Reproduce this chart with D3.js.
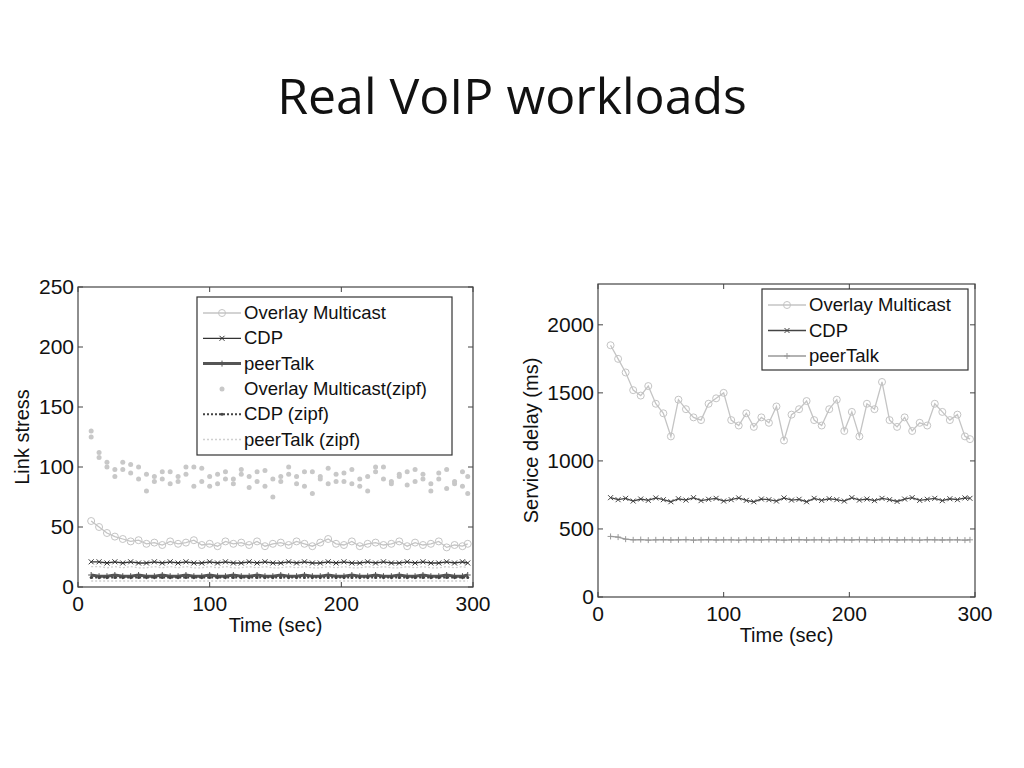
<!DOCTYPE html>
<html><head><meta charset="utf-8">
<script src="https://cdn.jsdelivr.net/npm/d3@7"></script>
<style>body{margin:0;background:#fff}</style>
</head><body>
<svg id="c" width="1024" height="768"></svg>
<script>
// shared time axis (sec)
const times = [10,16,22,28,34,40,46,52,58,64,70,76,82,88,94,100,106,112,118,124,130,136,142,148,154,160,166,172,178,184,190,196,202,208,214,220,226,232,238,244,250,256,262,268,274,280,286,292,296];

// left: link stress
const omZipf = [130,112,104,98,104,95,100,80,92,90,96,88,100,84,99,92,86,96,90,94,83,88,97,75,92,100,86,96,78,92,99,88,95,86,90,80,96,100,88,94,85,98,90,86,95,82,88,96,78];
const omZipf2 = [125,108,100,92,98,102,90,94,88,96,86,92,94,100,88,84,94,90,86,98,92,96,84,90,88,94,92,84,96,90,86,94,88,98,84,92,100,90,86,92,96,88,94,80,90,98,86,84,92];
const omLink = [55,50,45,42,40,38,39,36,37,35,38,36,37,39,35,36,34,38,36,37,35,38,34,36,37,35,38,36,34,37,40,36,35,38,34,36,37,35,36,38,34,37,35,36,38,33,35,34,36];
const cdpLink = [21,21,20,21,20,21,20,20,21,20,21,20,21,20,20,21,20,21,20,20,21,20,21,20,20,21,20,21,20,20,21,20,21,20,20,21,20,21,20,20,21,20,21,20,20,21,20,21,20];
const ptLink = [10,9,9,10,9,9,10,9,9,10,9,9,10,9,9,10,9,9,10,9,9,10,9,9,10,9,9,10,9,9,10,9,9,10,9,9,10,9,9,10,9,9,10,9,9,10,9,9,10];
const cdpZipfLink = [8,8,8,8,8,8,8,8,8,8,8,8,8,8,8,8,8,8,8,8,8,8,8,8,8,8,8,8,8,8,8,8,8,8,8,8,8,8,8,8,8,8,8,8,8,8,8,8,8];
const ptZipfLink = [17,17,16,17,16,17,16,16,17,16,17,16,17,16,16,17,16,17,16,16,17,16,17,16,16,17,16,17,16,16,17,16,17,16,16,17,16,17,16,16,17,16,17,16,16,17,16,17,16];
const ptZipfLink2 = [5,5,5,5,5,5,5,5,5,5,5,5,5,5,5,5,5,5,5,5,5,5,5,5,5,5,5,5,5,5,5,5,5,5,5,5,5,5,5,5,5,5,5,5,5,5,5,5,5];

// right: service delay (ms)
const omDelay = [1850,1750,1650,1520,1480,1550,1420,1350,1180,1450,1380,1320,1300,1420,1460,1500,1300,1260,1350,1250,1320,1280,1400,1150,1340,1380,1440,1300,1260,1380,1450,1220,1360,1180,1420,1380,1580,1300,1250,1320,1220,1280,1260,1420,1360,1300,1340,1180,1160];
const cdpDelay = [730,715,725,705,720,710,728,715,700,722,712,730,708,718,725,705,715,728,710,700,720,715,705,728,712,718,700,725,710,722,715,705,730,712,720,708,725,715,702,720,730,710,718,725,708,722,715,728,725];
const ptDelay = [445,440,425,420,422,418,420,421,419,420,422,418,420,421,419,420,420,418,421,420,419,422,420,418,420,421,419,420,420,418,421,420,419,422,420,418,420,421,419,420,420,418,421,420,419,420,420,418,420];

const xTicks = [0,100,200,300];
const yTicksL = [0,50,100,150,200,250];
const yTicksR = [0,500,1000,1500,2000];

const svg = d3.select('#c');
const FONT = '"Liberation Sans", Arial, sans-serif';

svg.append('text').attr('x', 512).attr('y', 114).attr('text-anchor', 'middle')
  .attr('font-family', '"Open Sans", Lato, sans-serif').attr('font-size', 50).attr('fill', '#111')
  .text('Real VoIP workloads');

function panel(o) {
  const x = d3.scaleLinear().domain([0, 300]).range([o.x0, o.x1]);
  const y = d3.scaleLinear().domain([0, o.ymax]).range([o.y0, o.y1]);
  const g = svg.append('g');
  g.append('rect').attr('x', o.x0).attr('y', o.y1).attr('width', o.x1 - o.x0).attr('height', o.y0 - o.y1)
    .attr('fill', '#fff').attr('stroke', '#444').attr('stroke-width', 1.2);

  xTicks.forEach(t => {
    g.append('line').attr('x1', x(t)).attr('x2', x(t)).attr('y1', o.y0).attr('y2', o.y0 - 5).attr('stroke', '#444');
    g.append('line').attr('x1', x(t)).attr('x2', x(t)).attr('y1', o.y1).attr('y2', o.y1 + 5).attr('stroke', '#444');
    g.append('text').attr('x', x(t)).attr('y', o.y0 + 24).attr('text-anchor', 'middle')
      .attr('font-family', FONT).attr('font-size', 21).attr('fill', '#111').text(t);
  });
  o.yTicks.forEach(t => {
    g.append('line').attr('x1', o.x0).attr('x2', o.x0 + 5).attr('y1', y(t)).attr('y2', y(t)).attr('stroke', '#444');
    g.append('line').attr('x1', o.x1).attr('x2', o.x1 - 5).attr('y1', y(t)).attr('y2', y(t)).attr('stroke', '#444');
    g.append('text').attr('x', o.x0 - 4).attr('y', y(t) + 7).attr('text-anchor', 'end')
      .attr('font-family', FONT).attr('font-size', 21).attr('fill', '#111').text(t);
  });
  g.append('text').attr('x', (o.x0 + o.x1) / 2).attr('y', o.y0 + 45).attr('text-anchor', 'middle')
    .attr('font-family', FONT).attr('font-size', 20).attr('fill', '#111').text('Time (sec)');
  g.append('text').attr('transform', `translate(${o.ylabX},${(o.y0 + o.y1) / 2 + o.ylabDy}) rotate(-90)`)
    .attr('text-anchor', 'middle').attr('font-family', FONT).attr('font-size', 20).attr('fill', '#111').text(o.ylab);

  const line = d3.line().x((d, i) => x(times[i])).y(d => y(d));
  o.series.forEach(s => {
    if (s.line) g.append('path').attr('d', line(s.data)).attr('fill', 'none').attr('stroke', s.color)
      .attr('stroke-width', s.w || 1.3).attr('stroke-dasharray', s.dash || null);
    s.data.forEach((d, i) => drawMarker(g, s.marker, x(times[i]), y(d), s.color));
  });

  // legend
  const L = o.legend;
  g.append('rect').attr('x', L.x).attr('y', L.y).attr('width', L.w).attr('height', L.h)
    .attr('fill', '#fff').attr('stroke', '#333').attr('stroke-width', 1.2);
  o.series.filter(s => s.label).forEach((s, i) => {
    const ly = L.y + 16 + i * L.step;
    if (s.line) g.append('line').attr('x1', L.x + 6).attr('x2', L.x + 44).attr('y1', ly).attr('y2', ly)
      .attr('stroke', s.color).attr('stroke-width', s.w || 1.3).attr('stroke-dasharray', s.dash || null);
    drawMarker(g, s.marker, L.x + 25, ly, s.color);
    g.append('text').attr('x', L.x + 47).attr('y', ly + 6).attr('font-family', FONT).attr('font-size', 18.5)
      .attr('fill', '#111').text(s.label);
  });
}

function drawMarker(g, m, cx, cy, color) {
  if (m === 'o') g.append('circle').attr('cx', cx).attr('cy', cy).attr('r', 3.5).attr('fill', 'none').attr('stroke', color);
  else if (m === 'x') g.append('path').attr('d', `M${cx-2.5},${cy-2.5}L${cx+2.5},${cy+2.5}M${cx-2.5},${cy+2.5}L${cx+2.5},${cy-2.5}`).attr('stroke', color);
  else if (m === '+') g.append('path').attr('d', `M${cx-3},${cy}L${cx+3},${cy}M${cx},${cy-3}L${cx},${cy+3}`).attr('stroke', color);
  else if (m === '.') g.append('circle').attr('cx', cx).attr('cy', cy).attr('r', 2.5).attr('fill', color);
  else if (m === 's') g.append('circle').attr('cx', cx).attr('cy', cy).attr('r', 1.5).attr('fill', color);
}

panel({
  x0: 78, x1: 473, y0: 587, y1: 287, ymax: 250, yTicks: yTicksL,
  ylab: 'Link stress', ylabX: 29, ylabDy: 0,
  legend: { x: 197, y: 297, w: 255, h: 158, step: 25.3 },
  series: [
    { label: 'Overlay Multicast', data: omLink, line: true, marker: 'o', color: '#c4c4c4' },
    { label: 'CDP', data: cdpLink, line: true, marker: 'x', color: '#333' },
    { label: 'peerTalk', data: ptLink, line: true, marker: '+', color: '#555', w: 3 },
    { label: 'Overlay Multicast(zipf)', data: omZipf, line: false, marker: '.', color: '#c8c8c8' },
    { label: 'CDP (zipf)', data: cdpZipfLink, line: true, marker: 's', color: '#444', dash: '2,2', w: 2 },
    { label: 'peerTalk (zipf)', data: ptZipfLink, line: true, marker: null, color: '#d0d0d0', dash: '2,2' },
    { data: omZipf2, line: false, marker: '.', color: '#c8c8c8' },
    { data: ptZipfLink2, line: true, marker: null, color: '#d0d0d0', dash: '2,2' }
  ]
});

panel({
  x0: 598, x1: 975, y0: 597, y1: 284, ymax: 2300, yTicks: yTicksR,
  ylab: 'Service delay (ms)', ylabX: 538, ylabDy: 0,
  legend: { x: 762, y: 289, w: 206, h: 81, step: 25.5 },
  series: [
    { label: 'Overlay Multicast', data: omDelay, line: true, marker: 'o', color: '#c4c4c4' },
    { label: 'CDP', data: cdpDelay, line: true, marker: 'x', color: '#444' },
    { label: 'peerTalk', data: ptDelay, line: true, marker: '+', color: '#999' }
  ]
});
</script>
</body></html>
